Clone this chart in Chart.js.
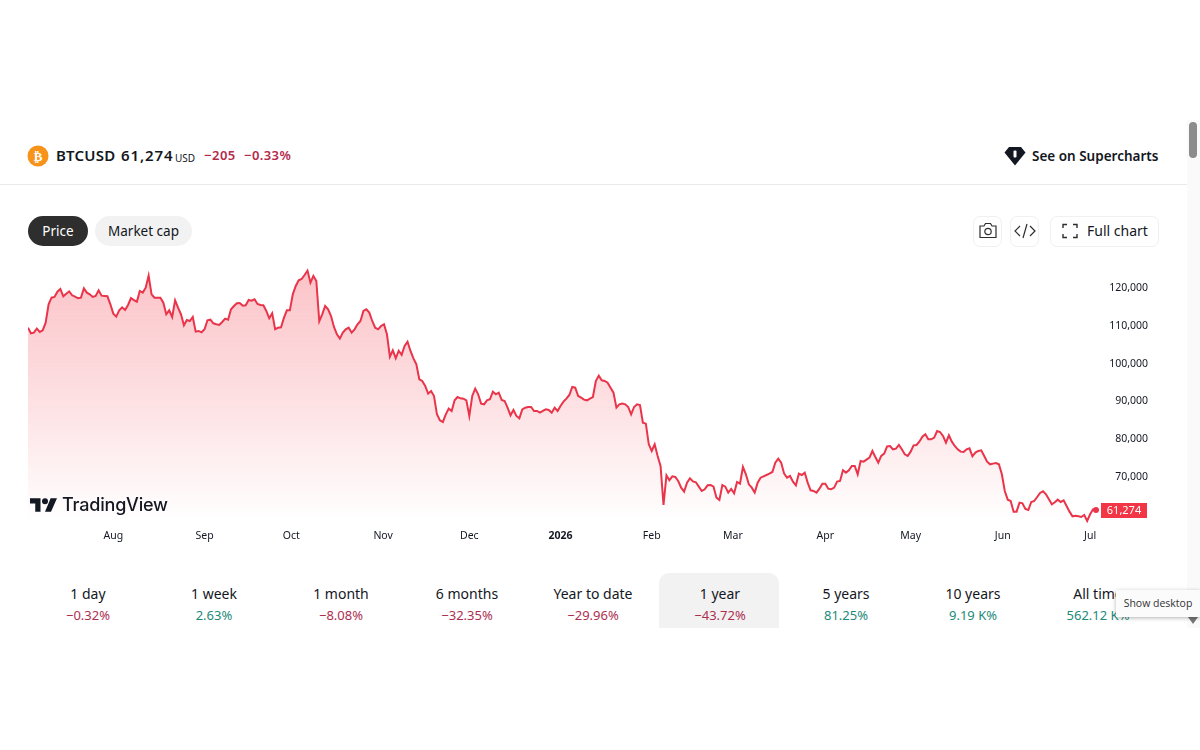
<!DOCTYPE html>
<html>
<head>
<meta charset="utf-8">
<title>BTCUSD</title>
<script src="https://cdn.jsdelivr.net/npm/chart.js@4/dist/chart.umd.js"></script>
<style>
  html, body { margin: 0; padding: 0; background: #fff; overflow: hidden; }
  body { width: 1200px; height: 750px; position: relative; font-family: "Noto Sans", sans-serif; color: #131722; }
  .abs { position: absolute; white-space: nowrap; line-height: 1; }
  .pill { position: absolute; top: 216px; height: 30px; line-height: 30px; border-radius: 15px; text-align: center; font-size: 13.500px; }
  .tool { position: absolute; top: 216px; height: 29px; border: 1px solid #f0f0f0; border-radius: 7px; box-sizing: content-box; }
  .tool svg { position: absolute; }
  #priceChart { position: absolute; left: 28px; top: 265px; }
  .period { position: absolute; top: 586px; width: 126px; text-align: center; white-space: nowrap; }
  .period .name { font-size: 14px; line-height: 16px; color: #131722; }
  .period .chg { font-size: 13px; line-height: 16px; margin-top: 5px; }
</style>
</head>
<body>

<svg class="abs" style="left:27px;top:145px" width="22" height="22" viewBox="0 0 22 22">
  <circle cx="11" cy="11" r="10.500" fill="#f7931a"/>
  <text x="11" y="15.500" font-size="13" font-weight="700" fill="#fff" text-anchor="middle" font-family="DejaVu Sans">₿</text>
</svg>
<div class="abs" style="left:56px;top:148px;font-size:15px;font-weight:600;letter-spacing:.2px">BTCUSD</div>
<div class="abs" style="left:121px;top:148px;font-size:15px;font-weight:600;letter-spacing:.9px">61,274</div>
<div class="abs" style="left:175px;top:153px;font-size:10px">USD</div>
<div class="abs" style="left:204px;top:149px;font-size:13px;font-weight:600;letter-spacing:.5px;color:#b22b4c">−205</div>
<div class="abs" style="left:244px;top:149px;font-size:13px;font-weight:600;letter-spacing:.4px;color:#b22b4c">−0.33%</div>

<svg class="abs" style="left:1004px;top:146px" width="22" height="20" viewBox="0 0 22 20">
  <path d="M5 1h12l4.500 5.500L11 19.500 .5 6.500z" fill="#131722"/>
  <rect x="9.500" y="4.500" width="3" height="7" rx="1" fill="#fff"/>
</svg>
<div class="abs" style="left:1032px;top:150px;font-size:13.500px;font-weight:600">See on Supercharts</div>

<div class="abs" style="left:0;top:184px;width:1187px;height:1px;background:#e9e9e9"></div>

<div class="pill" style="left:28px;width:60px;background:#2e2e2e;color:#fff">Price</div>
<div class="pill" style="left:95px;width:97px;background:#f2f2f2">Market cap</div>

<div class="tool" style="left:973px;width:27px">
  <svg style="left:4px;top:5px" width="20" height="18" viewBox="0 0 20 18" fill="none" stroke="#2e2e2e" stroke-width="1.200">
    <path d="M2 4h4l1.500-2.500h5L14 4h4v11.500H2z"/><circle cx="10" cy="9.500" r="3.200"/>
  </svg>
</div>
<div class="tool" style="left:1010px;width:27px">
  <svg style="left:3px;top:6px" width="22" height="16" viewBox="0 0 22 16" fill="none" stroke="#2e2e2e" stroke-width="1.200">
    <path d="M6 3 1 8l5 5M16 3l5 5-5 5M13 1 9 15"/>
  </svg>
</div>
<div class="tool" style="left:1050px;width:107px">
  <svg style="left:11px;top:6px" width="16" height="16" viewBox="0 0 16 16" fill="none" stroke="#2e2e2e" stroke-width="1.400">
    <path d="M1 5V1.500h4M11 1.500h4V5M15 11v3.500h-4M5 14.500H1V11"/>
  </svg>
  <div class="abs" style="left:36px;top:7px;font-size:14px">Full chart</div>
</div>

<canvas id="priceChart" width="1120" height="290"></canvas>

<svg class="abs" style="left:30px;top:497px" width="27" height="16" viewBox="0 7 36 18">
  <path d="M14 25H7V14H0V7h14v18zM28 25h-8l7.500-18H36l-8 18z" fill="#131722"/>
  <circle cx="20" cy="11" r="4" fill="#131722"/>
</svg>
<div class="abs" style="left:62px;top:496px;font-family:Inter;font-size:18px;font-weight:500;letter-spacing:-.2px">TradingView</div>

<div id="periods"></div>

<div class="abs" style="left:1187px;top:120px;width:13px;height:508px;background:#fafafa"></div>
<div class="abs" style="left:1189px;top:122px;width:8px;height:36px;background:#8c8c8c;border-radius:4px"></div>
<svg class="abs" style="left:1188px;top:617px" width="10" height="7"><path d="M0 0h10L5 7z" fill="#777"/></svg>
<div class="abs" style="left:1116px;top:590px;width:84px;height:27px;line-height:26px;background:#fbfbfb;box-shadow:0 1px 4px rgba(0,0,0,.3);font-size:10.500px;text-align:center;color:#333;font-family:'Open Sans'">Show desktop</div>

<script>
const dayMonths = ['Aug', 'Sep', 'Oct', 'Nov', 'Dec', '2026', 'Feb', 'Mar', 'Apr', 'May', 'Jun', 'Jul']
const dayMonthStarts = [29, 60, 89.5, 120.7, 150, 181, 212, 239.6, 271, 300, 331.3, 361]
const priceTicks = [70000, 80000, 90000, 100000, 110000, 120000]

const periodNames = ['1 day', '1 week', '1 month', '6 months', 'Year to date', '1 year', '5 years', '10 years', 'All time']
const periodChanges = ['−0.32%', '2.63%', '−8.08%', '−32.35%', '−29.96%', '−43.72%', '81.25%', '9.19 K%', '562.12 K%']
const periodCenters = [88, 214, 341, 467, 593, 720, 846, 973, 1098]
const activePeriod = 5

// daily closes, one value per day over the last year
const prices = [
  109500, 108000, 108180, 109240, 108360, 108800, 110830, 115680, 117440, 117620,
  119030, 119740, 117800, 118500, 119120, 118060, 117700, 117270, 117440, 119910,
  118770, 118320, 117620, 117880, 119380, 117970, 117880, 117800, 115680, 113210,
  112420, 114090, 114890, 114180, 115500, 117350, 116800, 116380, 119210, 118770,
  120090, 123260, 118320, 117440, 117440, 117440, 116120, 113040, 114090, 112330,
  116740, 114800, 113040, 110120, 111530, 111270, 112330, 108450, 108630, 108270,
  109070, 111450, 111620, 110650, 110400, 110210, 111000, 111890, 111620, 114360,
  115240, 115940, 116030, 115330, 115420, 116830, 116650, 117000, 115770, 115500,
  115420, 113920, 111980, 113300, 109070, 109510, 109600, 112150, 114090, 114090,
  118320, 120530, 122030, 122380, 123440, 124590, 121410, 123180, 121850, 111200,
  113030, 115240, 114360, 112590, 109680, 107740, 106600, 108180, 109060, 109500,
  108180, 109060, 110390, 111270, 113920, 114360, 113480, 111270, 109500, 109060,
  109950, 110390, 107740, 101800, 103500, 101400, 103400, 102300, 104660, 105800,
  103340, 101390, 99800, 95840, 95400, 94080, 92050, 92750, 91430, 86580,
  84990, 84550, 86580, 88080, 87460, 90280, 91160, 90810, 90720, 90280,
  86140, 91430, 93370, 91870, 89400, 89220, 90280, 90550, 92580, 91870,
  92310, 90370, 90110, 88340, 86320, 87730, 86140, 85520, 87900, 88340,
  88520, 88520, 87460, 87460, 87020, 87460, 87900, 87730, 87020, 88340,
  87460, 88780, 89930, 90720, 91690, 93810, 93630, 91430, 90990, 90460,
  90280, 90720, 91160, 95400, 96810, 95570, 95400, 94960, 93630, 92310,
  88340, 89220, 89400, 89220, 88520, 86580, 88520, 89220, 89050, 84370,
  84110, 78640, 76880, 78640, 75560, 72910, 62590, 70440, 69120, 70180,
  70000, 68940, 67180, 66120, 68500, 69650, 68850, 68590, 67440, 66300,
  66740, 67800, 67890, 67440, 64530, 63920, 67890, 67440, 65860, 66830,
  65680, 68680, 68240, 72650, 70710, 68060, 67180, 65860, 68500, 69820,
  70180, 70530, 70880, 71320, 73790, 74850, 73790, 70880, 69820, 70260,
  68770, 67800, 70880, 70530, 71150, 68500, 66470, 66300, 65860, 66910,
  68240, 68240, 66910, 66740, 67180, 68770, 68940, 71760, 71150, 71760,
  72910, 72910, 70710, 74230, 74060, 74590, 75120, 76880, 75290, 73790,
  75560, 76170, 78110, 78200, 77320, 77500, 78470, 77320, 76000, 75560,
  76700, 78380, 78470, 79400, 80670, 81290, 79970, 79970, 80410, 82170,
  81900, 80850, 79080, 81020, 79350, 78200, 77320, 76700, 76610, 77320,
  77580, 75470, 76440, 76880, 77060, 75560, 74060, 73350, 73530, 73700,
  73350, 70710, 66300, 64000, 63650, 60830, 60830, 63210, 63030, 61540,
  61270, 63390, 63650, 64710, 65770, 66210, 65420, 64090, 62770, 63300,
  64000, 63390, 63830, 62330, 60830, 59600, 59770, 59600, 59420, 59950,
  58360, 60120, 61450, 61274
]

const lineRed = '#e9344a'
const tagRed = '#f23645'
const lastIndex = prices.length - 1

// period strip under the chart
const periodsEl = document.getElementById('periods')
periodNames.forEach((name, i) => {
  if (i === activePeriod) {
    const bg = document.createElement('div')
    bg.className = 'abs'
    bg.style.cssText = 'left:659px;top:573px;width:120px;height:55px;background:#f2f2f2;border-radius:10px 10px 0 0'
    periodsEl.appendChild(bg)
  }
  const cell = document.createElement('div')
  cell.className = 'period'
  cell.style.left = (periodCenters[i] - 63) + 'px'
  const color = periodChanges[i].startsWith('−') ? '#ad2f50' : '#1d8a78'
  cell.innerHTML = `<div class="name">${name}</div><div class="chg" style="color:${color}">${periodChanges[i]}</div>`
  periodsEl.appendChild(cell)
})

// the scales reserve room for half a label at their ends, not wanted here
function dropEndPadding(scale) {
  scale.paddingLeft = 0
  scale.paddingRight = 0
  scale.paddingTop = 0
  scale.paddingBottom = 0
}

// red tag with the last price, sitting on the price axis
const lastPriceTag = {
  id: 'lastPriceTag',
  afterDraw(chart) {
    const { ctx } = chart
    const yScale = chart.scales.y
    const py = Math.round(yScale.getPixelForValue(prices[lastIndex]))
    ctx.save()
    ctx.fillStyle = tagRed
    ctx.fillRect(yScale.left + 5, py - 7, 46, 15)
    ctx.fillStyle = '#fff'
    ctx.font = '11px "Noto Sans"'
    ctx.textAlign = 'center'
    ctx.textBaseline = 'middle'
    ctx.fillText(prices[lastIndex].toLocaleString('en-US'), yScale.left + 28, py + 0.5)
    ctx.restore()
  }
}

new Chart(document.getElementById('priceChart'), {
  type: 'line',
  plugins: [lastPriceTag],
  data: {
    datasets: [{
      data: prices.map((price, day) => ({ x: day, y: price })),
      borderColor: lineRed,
      borderWidth: 2,
      tension: 0,
      clip: false,
      pointRadius: (c) => c.dataIndex === lastIndex ? 3 : 0,
      pointBackgroundColor: lineRed,
      pointBorderWidth: 0,
      fill: 'start',
      backgroundColor: (c) => {
        const area = c.chart.chartArea
        if (!area) return 'transparent'
        const grad = c.chart.ctx.createLinearGradient(0, area.top, 0, area.bottom)
        grad.addColorStop(0, 'rgba(242,54,69,0.30)')
        grad.addColorStop(0.5, 'rgba(242,54,69,0.16)')
        grad.addColorStop(1, 'rgba(242,54,69,0)')
        return grad
      }
    }]
  },
  options: {
    responsive: false,
    animation: false,
    layout: { padding: 0, autoPadding: false },
    plugins: { legend: { display: false }, tooltip: { enabled: false } },
    scales: {
      x: {
        type: 'linear',
        min: 0,
        max: lastIndex,
        grid: { display: false },
        border: { display: false },
        afterBuildTicks: (scale) => { scale.ticks = dayMonthStarts.map((value) => ({ value })) },
        afterFit: (scale) => { scale.height = 33; dropEndPadding(scale) },
        ticks: {
          autoSkip: false,
          maxRotation: 0,
          padding: 0,
          color: '#131722',
          font: (c) => ({ family: 'Noto Sans', size: 10.5, weight: c.index === 5 ? '700' : '400' }),
          callback: (value, i) => dayMonths[i]
        }
      },
      y: {
        position: 'right',
        min: 58090,
        max: 126080,
        grid: { display: false },
        border: { display: false },
        afterBuildTicks: (scale) => { scale.ticks = priceTicks.map((value) => ({ value })) },
        afterFit: (scale) => { scale.width = 52; dropEndPadding(scale) },
        ticks: {
          crossAlign: 'far',
          padding: 0,
          color: '#131722',
          font: { family: 'Noto Sans', size: 10.5 },
          callback: (value) => value.toLocaleString('en-US')
        }
      }
    }
  }
})
</script>
</body>
</html>
